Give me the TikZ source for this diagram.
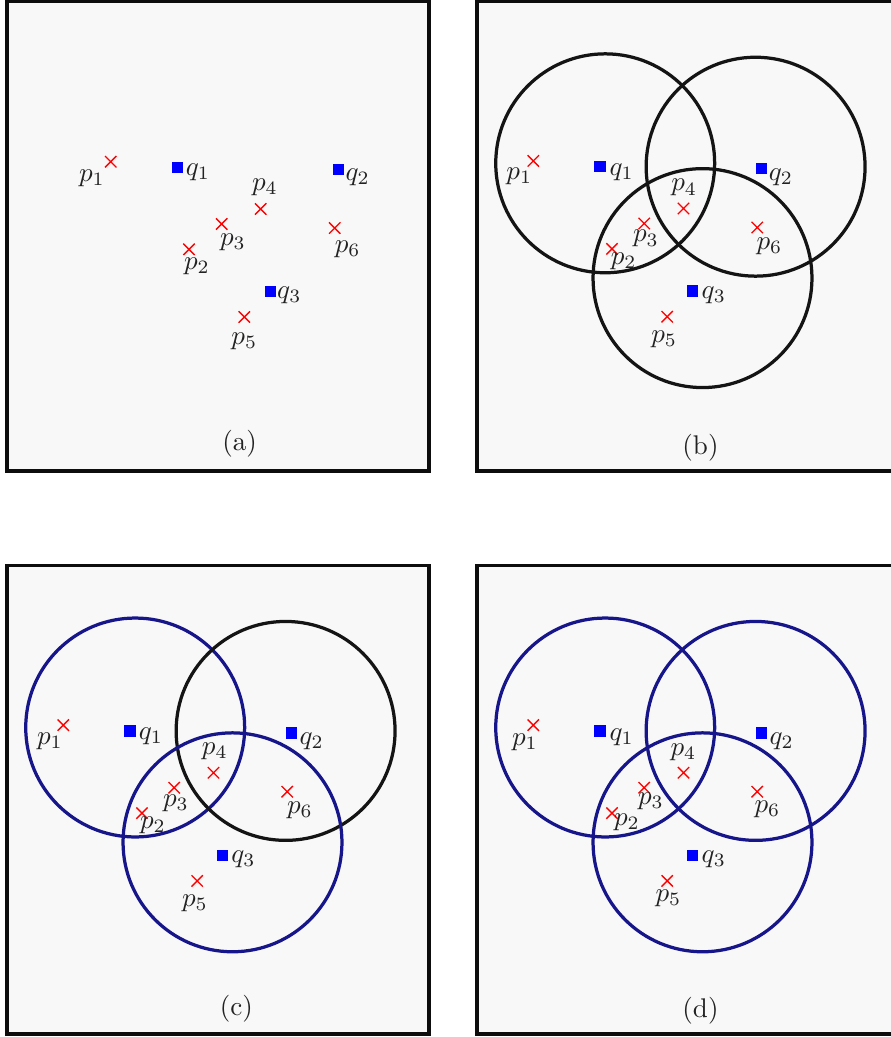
\documentclass[tikz,border=0pt]{standalone}
\usepackage{amsmath, amssymb}
\usepackage{tikz}
\usetikzlibrary{shapes.misc}

\definecolor{panelbg}{RGB}{248,248,248}
\definecolor{ringblue}{RGB}{22,22,138}
\definecolor{labelgray}{RGB}{34,34,34}

\begin{document}
\begin{tikzpicture}[x=0.37pt, y=-0.37pt,
    panel/.style={draw=black!95, line width=1.25pt, fill=panelbg},
    ring/.style={draw=black!92, line width=1.2pt},
    ringsel/.style={draw=ringblue, line width=1.2pt},
    pnt/.style={cross out, draw=red, line width=0.5pt, minimum size=3.7pt, inner sep=0pt},
    qry/.style={rectangle, fill=blue, minimum size=4.2pt, inner sep=0pt},
    lbl/.style={inner sep=0pt, text=labelgray},
    capt/.style={inner sep=0pt, text=labelgray}
]
    \useasboundingbox (0,0) rectangle (891,1037);

    % ========== Panel (a) ==========
    \begin{scope}[shift={(7,1.5)}]
    \draw[panel] (0,0) rectangle (422,469.5);
    \node[pnt] (a_p1) at (103.7,160.2) {};
    \node[pnt] (a_p2) at (182,247.8) {};
    \node[pnt] (a_p3) at (214.7,222.5) {};
    \node[pnt] (a_p4) at (253.7,207.5) {};
    \node[pnt] (a_p5) at (237.3,315.5) {};
    \node[pnt] (a_p6) at (327.7,226.5) {};
    \node[qry] (a_q1) at (170.3,165.8) {};
    \node[qry] (a_q2) at (331.3,167.8) {};
    \node[qry] (a_q3) at (263.3,289.8) {};
    \node[lbl] at (85,176.5)    {$p_1$};
    \node[lbl] at (190,264.5)   {$p_2$};
    \node[lbl] at (226,240.5)   {$p_3$};
    \node[lbl] at (258,185.5)   {$p_4$};
    \node[lbl] at (237.3,340.2) {$p_5$};
    \node[lbl] at (340.7,247.5) {$p_6$};
    \node[lbl] at (191,170.5)   {$q_1$};
    \node[lbl] at (350.7,176.2) {$q_2$};
    \node[lbl] at (282.3,294.2) {$q_3$};
    \node[capt] (a_cap) at (232.7,442.2) {(a)};
    \end{scope}

    % ========== Panel (b) ==========
    \begin{scope}[shift={(477,1.5)}]
    \draw[panel] (0,0) rectangle (422,469.5);
    \draw[ring] (128.2,161.8) circle[radius=40.5pt];
    \draw[ring] (278.6,165.2) circle[radius=40.5pt];
    \draw[ring] (225.5,276.6) circle[radius=40.5pt];
    \node[pnt] (b_p1) at (56.3,159.4) {};
    \node[pnt] (b_p2) at (135,247.4) {};
    \node[pnt] (b_p3) at (167.2,222) {};
    \node[pnt] (b_p4) at (206.5,207) {};
    \node[pnt] (b_p5) at (190.2,315.2) {};
    \node[pnt] (b_p6) at (280.2,226) {};
    \node[qry] (b_q1) at (123,165.2) {};
    \node[qry] (b_q2) at (284.7,167.2) {};
    \node[qry] (b_q3) at (215.8,289.5) {};
    \node[lbl] at (42.3,174.4)  {$p_1$};
    \node[lbl] at (146.7,259.8) {$p_2$};
    \node[lbl] at (168.9,237.3) {$p_3$};
    \node[lbl] at (207.2,186.3) {$p_4$};
    \node[lbl] at (187.2,338.2) {$p_5$};
    \node[lbl] at (292.5,244.7) {$p_6$};
    \node[lbl] at (144.7,171.2) {$q_1$};
    \node[lbl] at (304,176.2)   {$q_2$};
    \node[lbl] at (236.8,293.9) {$q_3$};
    \node[capt] (b_cap) at (223.5,446) {(b)};
    \end{scope}

    % ========== Panel (c) ==========
    \begin{scope}[shift={(7,565.7)}]
    \draw[panel] (0,0) rectangle (422,468.3);
    \draw[ringsel] (128.2,161.8) circle[radius=40.5pt];
    \draw[ring]    (278.6,165.2) circle[radius=40.5pt];
    \draw[ringsel] (225.5,276.6) circle[radius=40.5pt];
    \node[pnt] (c_p1) at (56.3,159.4) {};
    \node[pnt] (c_p2) at (135,247.4) {};
    \node[pnt] (c_p3) at (167.2,222) {};
    \node[pnt] (c_p4) at (206.5,207) {};
    \node[pnt] (c_p5) at (190.2,315.2) {};
    \node[pnt] (c_p6) at (280.2,226) {};
    \node[qry] (c_q1) at (123,165.2) {};
    \node[qry] (c_q2) at (284.7,167.2) {};
    \node[qry] (c_q3) at (215.8,289.5) {};
    \node[lbl] at (43,175.8)    {$p_1$};
    \node[lbl] at (146,259.7)   {$p_2$};
    \node[lbl] at (168.9,237.4) {$p_3$};
    \node[lbl] at (207.8,186)   {$p_4$};
    \node[lbl] at (187.9,337.2) {$p_5$};
    \node[lbl] at (292.9,245)   {$p_6$};
    \node[lbl] at (144,170.6)   {$q_1$};
    \node[lbl] at (304.7,175.6) {$q_2$};
    \node[lbl] at (236.5,293.8) {$q_3$};
    \node[capt] (c_cap) at (229.3,443.5) {(c)};
    \end{scope}

    % ========== Panel (d) ==========
    \begin{scope}[shift={(477,565.7)}]
    \draw[panel] (0,0) rectangle (422,468.3);
    \draw[ringsel] (128.2,161.8) circle[radius=40.5pt];
    \draw[ringsel] (278.6,165.2) circle[radius=40.5pt];
    \draw[ringsel] (225.5,276.6) circle[radius=40.5pt];
    \node[pnt] (d_p1) at (56.3,159.4) {};
    \node[pnt] (d_p2) at (135,247.4) {};
    \node[pnt] (d_p3) at (167.2,222) {};
    \node[pnt] (d_p4) at (206.5,207) {};
    \node[pnt] (d_p5) at (190.2,315.2) {};
    \node[pnt] (d_p6) at (280.2,226) {};
    \node[qry] (d_q1) at (123,165.2) {};
    \node[qry] (d_q2) at (284.7,167.2) {};
    \node[qry] (d_q3) at (215.8,289.5) {};
    \node[lbl] at (48,176.7)    {$p_1$};
    \node[lbl] at (150,256.4)   {$p_2$};
    \node[lbl] at (173.9,235.4) {$p_3$};
    \node[lbl] at (206.5,186.7) {$p_4$};
    \node[lbl] at (191.5,332.8) {$p_5$};
    \node[lbl] at (290.5,243.3) {$p_6$};
    \node[lbl] at (144.7,171.6) {$q_1$};
    \node[lbl] at (304.7,175.6) {$q_2$};
    \node[lbl] at (236.8,293.8) {$q_3$};
    \node[capt] (d_cap) at (223.5,445) {(d)};
    \end{scope}
\end{tikzpicture}
\end{document}
